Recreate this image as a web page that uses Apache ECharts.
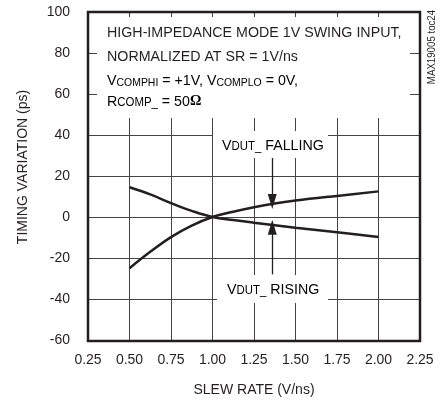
<!DOCTYPE html>
<html>
<head>
<meta charset="utf-8">
<script src="https://cdn.jsdelivr.net/npm/echarts@6/dist/echarts.min.js"></script>
<style>html,body{margin:0;padding:0;background:#fff}#c{width:446px;height:402px}</style>
</head>
<body>
<div id="c"></div>
<script>
const slewRate = [0.5, 0.625, 0.75, 0.875, 1.0, 1.125, 1.25, 1.375, 1.5, 1.75, 2.0];
const fallingVar = [-25, -17, -9.8, -4.2, 0, 2.6, 4.8, 6.6, 8, 10.3, 12.5];
const risingVar = [14.5, 11, 6.8, 3, 0, -1.5, -2.8, -4, -5.2, -7.4, -9.8];
const xTicks = { min: 0.25, max: 2.25, step: 0.25 };
const yTicks = { min: -60, max: 100, step: 20 };
const fallingArrow = [[1.36, 29], [1.36, 7.6]];
const risingArrow = [[1.36, -28], [1.36, -5]];

const FONT = "'Liberation Sans', Arial, sans-serif";
const INK = '#231f20';
const SX = 0.95;

const chart = echarts.init(document.getElementById('c'));

function pairs(xs, ys) { return xs.map((x, i) => [x, ys[i]]); }

const main = { fontFamily: FONT, fontSize: 15, color: INK, verticalAlign: 'bottom', lineHeight: 16 };
const sub = { fontFamily: FONT, fontSize: 11, color: INK, verticalAlign: 'bottom', lineHeight: 10 };
const subLow = { fontFamily: FONT, fontSize: 12, color: INK, verticalAlign: 'bottom', lineHeight: 6 };
const subMid = { fontFamily: FONT, fontSize: 12, color: INK, verticalAlign: 'bottom', lineHeight: 9 };
const omega = { fontFamily: "'Liberation Serif', serif", fontWeight: 'bold', fontSize: 15, color: INK, verticalAlign: 'bottom', lineHeight: 16 };

function txt(x, y, style) {
  return { type: 'text', x: x, y: y, z: 11, scaleX: SX, style: style };
}

function arrowLine(pts) {
  return {
    silent: true, symbol: ['none', 'triangle'], symbolSize: [9, 15], label: { show: false },
    lineStyle: { color: INK, width: 1.3, type: 'solid' },
    data: [[{ coord: pts[0] }, { coord: pts[1] }]]
  };
}

chart.setOption({
  animation: false,
  backgroundColor: '#fff',
  grid: { left: 88, right: 26, top: 12, bottom: 61, show: false },
  xAxis: {
    type: 'value', min: xTicks.min, max: xTicks.max, interval: xTicks.step,
    name: 'SLEW RATE (V/ns)', nameLocation: 'middle', nameGap: 43,
    nameTextStyle: { fontFamily: FONT, fontSize: 14, color: INK },
    axisLine: { show: false }, axisTick: { show: false },
    axisLabel: { fontFamily: FONT, fontSize: 14, color: INK, margin: 13, formatter: v => v.toFixed(2) },
    splitLine: { show: true, lineStyle: { color: '#444', width: 1, type: 'solid' } }
  },
  yAxis: {
    type: 'value', min: yTicks.min, max: yTicks.max, interval: yTicks.step,
    name: 'TIMING VARIATION (ps)', nameLocation: 'middle', nameGap: 58,
    nameTextStyle: { fontFamily: FONT, fontSize: 14, color: INK, padding: [0, 0, 0, 18] },
    axisLine: { show: false }, axisTick: { show: false },
    axisLabel: { fontFamily: FONT, fontSize: 14, color: INK, margin: 18 },
    splitLine: { show: true, lineStyle: { color: '#444', width: 1, type: 'solid' } }
  },
  series: [
    {
      type: 'line', data: pairs(slewRate, fallingVar), smooth: 0.4, showSymbol: false,
      lineStyle: { color: INK, width: 2.5 }, z: 3, markLine: arrowLine(fallingArrow)
    },
    {
      type: 'line', data: pairs(slewRate, risingVar), smooth: 0.4, showSymbol: false,
      lineStyle: { color: INK, width: 2.5 }, z: 3, markLine: arrowLine(risingArrow)
    }
  ],
  graphic: [
    { type: 'rect', shape: { x: 88, y: 12, width: 332, height: 329 }, style: { fill: 'none', stroke: INK, lineWidth: 2.5 }, z: 12, silent: true },
    { type: 'rect', shape: { x: 97, y: 17, width: 313, height: 101 }, style: { fill: '#fff' }, z: 10 },
    txt(107, 33, { text: 'HIGH-IMPEDANCE MODE 1V SWING INPUT,', font: '15px ' + FONT, fill: INK, verticalAlign: 'middle' }),
    txt(107, 57, { text: 'NORMALIZED AT SR = 1V/ns', font: '15px ' + FONT, fill: INK, verticalAlign: 'middle' }),
    txt(107, 80, { text: '{m|V}{s|COMPHI}{m| = +1V, V}{s|COMPLO}{m| = 0V,}', rich: { m: main, s: sub }, verticalAlign: 'middle' }),
    txt(107, 101, { text: '{m|R}{s|COMP_}{m| = 50}{o|Ω}', rich: { m: main, s: subLow, o: omega }, verticalAlign: 'middle' }),

    { type: 'rect', shape: { x: 213, y: 131, width: 115, height: 27 }, style: { fill: '#fff' }, z: 10 },
    txt(222, 145, { text: '{m|V}{s|DUT_}{m| FALLING}', rich: { m: main, s: subMid }, verticalAlign: 'middle' }),
    { type: 'rect', shape: { x: 217, y: 275, width: 111, height: 28 }, style: { fill: '#fff' }, z: 10 },
    txt(227, 289, { text: '{m|V}{s|DUT_}{m| RISING}', rich: { m: main, s: subMid }, verticalAlign: 'middle' }),

    { type: 'text', x: 432, y: 47, rotation: Math.PI / 2, z: 11, scaleX: 0.88, style: { text: 'MAX19005 toc24', font: '11px ' + FONT, fill: INK, align: 'center', verticalAlign: 'middle' } }
  ]
});
</script>
</body>
</html>
